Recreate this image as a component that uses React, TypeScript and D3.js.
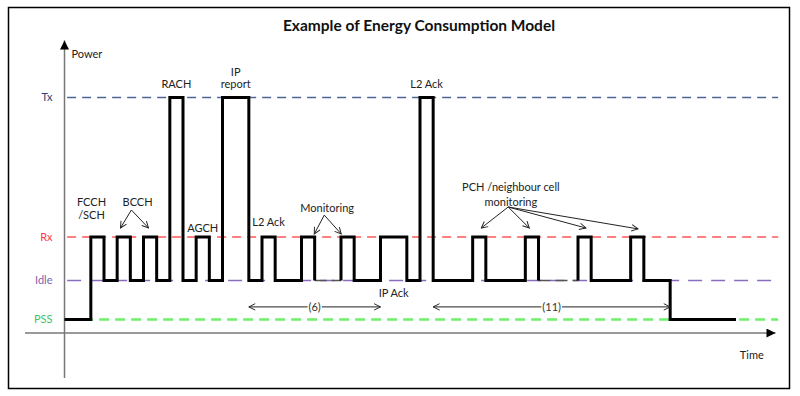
import * as d3 from 'd3';
import React, { useEffect, useRef } from 'react';

// power levels (relative units) and their label colours
const levelNames = ['PSS', 'Idle', 'Rx', 'Tx'];
const levelPower = [4.5, 17.5, 32, 78.5];
const levelLabelColor = ['#3cc46a', '#7f5fb0', '#ff3b3b', '#2f4272'];
const levelLineColor = ['#6cf06c', '#8a6cbf', '#ff8080', '#4f6694'];

// state changes of the UE power: start slot + level; "sleep" = idle part not drawn solid
const stateStart = [0, 2, 3, 4, 5, 6, 7, 8, 9, 10, 11, 12, 14, 15, 16, 18, 19, 21, 22, 24, 26, 27, 28, 31, 32, 35, 36, 39, 40, 43, 44, 46];
const stateLevel = ['PSS', 'Rx', 'Idle', 'Rx', 'Idle', 'Rx', 'Idle', 'Tx', 'Idle', 'Rx', 'Idle', 'Tx', 'Idle', 'Rx', 'Idle', 'Rx', 'Idle', 'Rx', 'Idle', 'Rx', 'Idle', 'Tx', 'Idle', 'Rx', 'Idle', 'Rx', 'Idle', 'Rx', 'Idle', 'Rx', 'Idle', 'PSS'];
const sleepStates = [16, 26];
const endSlot = 51;

// text annotations: [text, slot, power]
const labelText = ['FCCH', '/SCH', 'BCCH', 'RACH', 'IP', 'report', 'AGCH', 'L2 Ack', 'Monitoring', 'L2 Ack', 'IP Ack', 'PCH /neighbour cell', 'monitoring'];
const labelSlot = [2.05, 2.05, 5.55, 8.5, 13, 13, 10.5, 15.5, 19.95, 27.5, 25, 33.9, 33.9];
const labelPower = [43.7, 39.3, 43.7, 83, 87, 83, 35, 37, 41.7, 83, 13.3, 48.7, 43.7];

// pointer arrows: from [slot, power] to [slot, power]
const pointerFrom = [[5.08, 41], [5.08, 41], [19.73, 39.3], [19.73, 39.3], [33.7, 42], [33.7, 42], [33.7, 42], [33.7, 42]];
const pointerTo = [[4.25, 35], [6.38, 35], [18.97, 33], [21.02, 33], [31.65, 35], [35.3, 35], [39.6, 35], [43.56, 34.7]];

// span arrows: count of frames between two slots
const spanText = ['(6)', '(11)'];
const spanStart = [14, 28];
const spanEnd = [24, 46];
const spanPower = 8.7;

const font = 'Lato, "Open Sans", sans-serif';

const EnergyChart = () => {
    const svgRef = useRef<SVGSVGElement>(null);

    useEffect(() => {
        const svg = d3.select(svgRef.current);
        svg.selectAll('*').remove();

        const width = 800;
        const height = 396;

        const x = d3.scaleLinear().domain([0, endSlot]).range([64.5, 736]);
        const y = d3.scaleLinear().domain([0, 100]).range([333, 33]);
        const lvl = (name: string) => levelPower[levelNames.indexOf(name)];

        svg.attr('width', width).attr('height', height);

        const defs = svg.append('defs');
        defs.append('marker')
            .attr('id', 'open')
            .attr('viewBox', '0 0 10 10')
            .attr('refX', 9).attr('refY', 5)
            .attr('markerWidth', 8).attr('markerHeight', 8)
            .attr('markerUnits', 'userSpaceOnUse')
            .attr('orient', 'auto-start-reverse')
            .append('path')
            .attr('d', 'M1,1 L9,5 L1,9')
            .attr('fill', 'none')
            .attr('stroke', '#222')
            .attr('stroke-width', 1.2);
        defs.append('marker')
            .attr('id', 'solid')
            .attr('viewBox', '0 0 10 10')
            .attr('refX', 10).attr('refY', 5)
            .attr('markerWidth', 11).attr('markerHeight', 9)
            .attr('markerUnits', 'userSpaceOnUse')
            .attr('orient', 'auto')
            .append('path')
            .attr('d', 'M0,0 L10,5 L0,10 Z')
            .attr('fill', '#000');

        // frame
        svg.append('rect')
            .attr('x', 8.5).attr('y', 7.5)
            .attr('width', 781).attr('height', 381)
            .attr('fill', '#fff')
            .attr('stroke', '#000')
            .attr('stroke-width', 1.5);

        svg.append('text')
            .attr('x', 419).attr('y', 31)
            .attr('text-anchor', 'middle')
            .style('font-family', font)
            .style('font-size', '15.5px')
            .style('font-weight', 'bold')
            .attr('fill', '#111')
            .text('Example of Energy Consumption Model');

        // axes
        svg.append('line')
            .attr('x1', x(0)).attr('x2', x(0))
            .attr('y1', y(-15)).attr('y2', y(97.5))
            .attr('stroke', '#777').attr('stroke-width', 1.5)
            .attr('marker-end', 'url(#solid)');
        svg.append('line')
            .attr('x1', x(-3)).attr('x2', x(54))
            .attr('y1', y(0)).attr('y2', y(0))
            .attr('stroke', '#777').attr('stroke-width', 1.5)
            .attr('marker-end', 'url(#solid)');
        svg.append('text')
            .attr('x', x(0) + 7).attr('y', y(91.7))
            .style('font-family', font).style('font-size', '11px')
            .attr('fill', '#222').text('Power');
        svg.append('text')
            .attr('x', x(52.2)).attr('y', y(-8.7))
            .attr('text-anchor', 'middle')
            .style('font-family', font).style('font-size', '11px')
            .attr('fill', '#222').text('Time');

        // level lines
        const dashes = ['10,6', '14,9', '9,6', '9,6'];
        const widths = [2.5, 1.5, 2, 1.5];
        levelNames.forEach((name, i) => {
            svg.append('line')
                .attr('x1', x(0.2)).attr('x2', x(54.2))
                .attr('y1', y(levelPower[i])).attr('y2', y(levelPower[i]))
                .attr('stroke', levelLineColor[i])
                .attr('stroke-width', widths[i])
                .attr('stroke-dasharray', dashes[i]);
            svg.append('text')
                .attr('x', x(0) - 12).attr('y', y(levelPower[i]))
                .attr('dy', '0.35em')
                .attr('text-anchor', 'end')
                .style('font-family', font).style('font-size', '11px')
                .attr('fill', levelLabelColor[i])
                .text(name);
        });

        // power trace
        const pts: ([number, number] | null)[] = [];
        stateStart.forEach((t, i) => {
            const tNext = i < stateStart.length - 1 ? stateStart[i + 1] : endSlot;
            const p = lvl(stateLevel[i]);
            if (sleepStates.includes(i)) {
                pts.push([t, p]);
                pts.push(null);
                pts.push([tNext, p]);
            } else {
                pts.push([t, p]);
                pts.push([tNext, p]);
            }
        });
        const line = d3.line<[number, number] | null>()
            .defined(d => d !== null)
            .x(d => x(d![0]))
            .y(d => y(d![1]));

        sleepStates.forEach(i => {
            const p = lvl(stateLevel[i]);
            svg.append('line')
                .attr('x1', x(stateStart[i])).attr('x2', x(stateStart[i + 1]))
                .attr('y1', y(p)).attr('y2', y(p))
                .attr('stroke', '#555')
                .attr('stroke-width', 1.5)
                .attr('stroke-dasharray', '12,5');
        });

        svg.append('path')
            .attr('d', line(pts))
            .attr('fill', 'none')
            .attr('stroke', '#000')
            .attr('stroke-width', 3)
            .attr('stroke-linejoin', 'miter');

        // pointer arrows
        pointerFrom.forEach((f, i) => {
            svg.append('line')
                .attr('x1', x(f[0])).attr('y1', y(f[1]))
                .attr('x2', x(pointerTo[i][0])).attr('y2', y(pointerTo[i][1]))
                .attr('stroke', '#222').attr('stroke-width', 1)
                .attr('marker-end', 'url(#open)');
        });

        // span arrows
        spanText.forEach((txt, i) => {
            svg.append('line')
                .attr('x1', x(spanStart[i])).attr('x2', x(spanEnd[i]))
                .attr('y1', y(spanPower)).attr('y2', y(spanPower))
                .attr('stroke', '#222').attr('stroke-width', 1)
                .attr('marker-start', 'url(#open)')
                .attr('marker-end', 'url(#open)');
            const cx = x((spanStart[i] + spanEnd[i]) / 2);
            const t = svg.append('text')
                .attr('x', cx).attr('y', y(spanPower))
                .attr('dy', '0.35em')
                .attr('text-anchor', 'middle')
                .style('font-family', font).style('font-size', '11px')
                .attr('fill', '#333')
                .text(txt);
            const bb = (t.node() as SVGTextElement).getBBox();
            svg.insert('rect', () => t.node())
                .attr('x', bb.x - 1).attr('y', bb.y)
                .attr('width', bb.width + 2).attr('height', bb.height)
                .attr('fill', '#fff');
        });

        // annotations
        labelText.forEach((txt, i) => {
            svg.append('text')
                .attr('x', x(labelSlot[i])).attr('y', y(labelPower[i]))
                .attr('dy', '0.35em')
                .attr('text-anchor', 'middle')
                .style('font-family', font).style('font-size', '11px')
                .attr('fill', '#222')
                .text(txt);
        });
    }, []);

    return <svg ref={svgRef} style={{ position: 'absolute', left: 0, top: 0, display: 'block' }}></svg>;
};

export default function App() {
    return <EnergyChart />;
}
